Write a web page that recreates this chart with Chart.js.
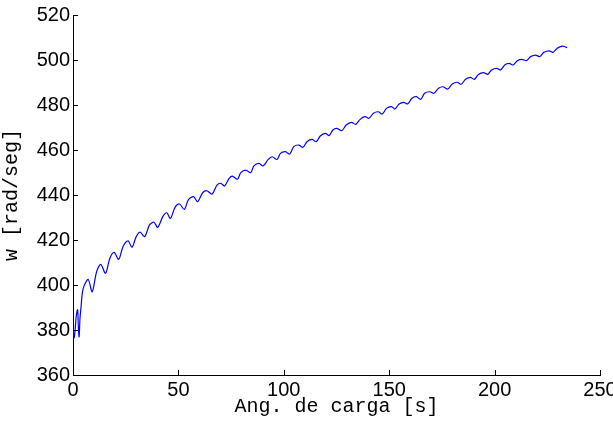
<!DOCTYPE html>
<html>
<head>
<meta charset="utf-8">
<script src="https://cdn.jsdelivr.net/npm/chart.js@4/dist/chart.umd.min.js"></script>
<style>
  html, body { margin: 0; padding: 0; background: #fff; }
  #wrap { width: 613px; height: 421px; }
</style>
</head>
<body>
<div id="wrap"><canvas id="speed-chart"></canvas></div>
<script>
// values
const angles = [0, 0.5, 1.0, 1.5, 2.2, 2.5, 2.9, 3.3, 3.8, 4.4, 5.2, 7.2, 9.1, 11.2, 13.2, 15.4, 17.5, 19.5, 21.7, 23.7,
    26.1, 28.0, 30.0, 31.8, 34.0, 36.3, 38.4, 40.2, 42.6, 44.5, 46.2, 48.4, 50.5, 52.8, 54.7, 57.2, 59.1, 61.5, 63.5, 65.9,
    68.3, 70.1, 71.9, 74.1, 75.6, 78.0, 79.6, 81.9, 84.3, 85.8, 88.2, 90.2, 92.6, 94.5, 96.8, 98.4, 100.8, 102.8, 104.7, 107.1,
    109.1, 111.0, 113.4, 115.4, 117.3, 119.7, 121.5, 123.3, 125.1, 127.5, 129.6, 132.2, 134.1, 136.2, 138.5, 140.4, 142.5, 144.8, 146.7, 148.7,
    151.1, 152.7, 154.7, 156.9, 158.8, 160.8, 162.9, 164.9, 166.8, 169.2, 171.2, 173.4, 175.5, 177.8, 179.9, 182.2, 184.1, 186.2, 188.5, 190.4,
    192.3, 194.8, 196.7, 198.6, 201.1, 202.9, 204.8, 206.9, 208.8, 210.8, 212.9, 215.1, 217.1, 219.5, 221.4, 223.4, 225.8, 227.7, 229.7, 232.1,
    233.4, 234.4];
const speeds = [381, 376.5, 380, 386, 389, 382, 377, 385, 390, 396.3, 399.5, 402.5, 397.0, 405.9, 409.2, 405.2, 411.9, 414.5, 411.4, 417.0,
    419.6, 416.8, 421.5, 423.5, 421.5, 426.7, 427.9, 425.6, 430.4, 432.1, 429.6, 434.5, 436.0, 433.6, 437.8, 439.3, 437.0, 441.0, 441.9, 440.4,
    444.4, 445.2, 444.0, 447.4, 448.4, 447.0, 449.9, 451.1, 449.9, 452.9, 454.1, 452.9, 455.8, 457.0, 455.8, 458.5, 459.3, 458.2, 461.5, 462.2,
    461.2, 463.7, 464.7, 463.7, 466.2, 467.4, 466.4, 468.9, 469.6, 468.6, 471.1, 472.3, 471.4, 473.6, 474.8, 474.1, 476.3, 477.0, 476.0, 478.5,
    479.3, 478.2, 480.4, 481.2, 480.5, 483.0, 483.7, 482.5, 485.2, 485.9, 485.2, 487.4, 488.1, 487.1, 489.3, 490.1, 489.2, 491.4, 492.3, 491.4,
    493.6, 494.4, 493.6, 495.6, 496.3, 495.6, 497.8, 498.5, 497.8, 499.7, 500.3, 499.7, 501.5, 502.2, 501.5, 503.4, 504.1, 503.4, 505.2, 506.2,
    505.9, 505.5];

const xTicks = [0, 50, 100, 150, 200, 250];
const yTicks = [360, 380, 400, 420, 440, 460, 480, 500, 520];

const tickFont = { family: "'Liberation Sans', Arial, Helvetica, sans-serif", size: 20 };
const monoFont = { family: "'Courier New', 'Liberation Mono', Courier, monospace", size: 20 };

// matlab style ticks pointing into the plot
const inwardTicks = {
    id: 'inwardTicks',
    afterDraw(chart) {
        const ctx = chart.ctx;
        const xs = chart.scales.x, ys = chart.scales.y;
        const area = chart.chartArea;
        ctx.save();
        ctx.strokeStyle = '#000';
        ctx.lineWidth = 1;
        ctx.beginPath();
        xTicks.forEach(v => {
            const p = Math.round(xs.getPixelForValue(v)) + 0.5;
            ctx.moveTo(p, area.bottom);
            ctx.lineTo(p, area.bottom - 5);
        });
        yTicks.forEach(v => {
            const p = Math.round(ys.getPixelForValue(v)) + 0.5;
            ctx.moveTo(area.left, p);
            ctx.lineTo(area.left + 5, p);
        });
        ctx.stroke();
        ctx.restore();
    }
};

const ctx = document.getElementById('speed-chart').getContext('2d');
new Chart(ctx, {
    type: 'line',
    data: {
        datasets: [{
            data: angles.map((a, i) => ({ x: a, y: speeds[i] })),
            borderColor: '#0000ff',
            borderWidth: 1.2,
            pointRadius: 0,
            tension: 0.3,
            fill: false
        }]
    },
    options: {
        responsive: true,
        maintainAspectRatio: false,
        animation: false,
        layout: { padding: { left: 0, right: 13, top: 15, bottom: 0 } },
        plugins: {
            legend: { display: false },
            tooltip: { enabled: false }
        },
        scales: {
            x: {
                type: 'linear',
                min: 0,
                max: 250,
                afterBuildTicks: scale => { scale.ticks = xTicks.map(v => ({ value: v })); },
                afterFit: scale => { scale.height = 46; scale.paddingLeft = 0; scale.paddingRight = 0; },
                grid: { display: true, drawOnChartArea: false, drawTicks: false },
                border: { display: true, color: '#000', width: 1 },
                ticks: { color: '#000', font: tickFont, padding: 3, maxRotation: 0, autoSkip: false },
                title: { display: true, text: 'Ang. de carga [s]', color: '#000', font: monoFont, padding: { top: 0, bottom: 2 } }
            },
            y: {
                type: 'linear',
                min: 360,
                max: 520,
                afterBuildTicks: scale => { scale.ticks = yTicks.map(v => ({ value: v })); },
                afterFit: scale => { scale.width = 73; scale.paddingTop = 0; scale.paddingBottom = 0; },
                grid: { display: true, drawOnChartArea: false, drawTicks: false },
                border: { display: true, color: '#000', width: 1 },
                ticks: { color: '#000', font: tickFont, padding: 3, autoSkip: false },
                title: { display: true, text: 'w [rad/seg]', color: '#000', font: monoFont, padding: { top: 0, bottom: 0 } }
            }
        }
    },
    plugins: [inwardTicks]
});
</script>
</body>
</html>
